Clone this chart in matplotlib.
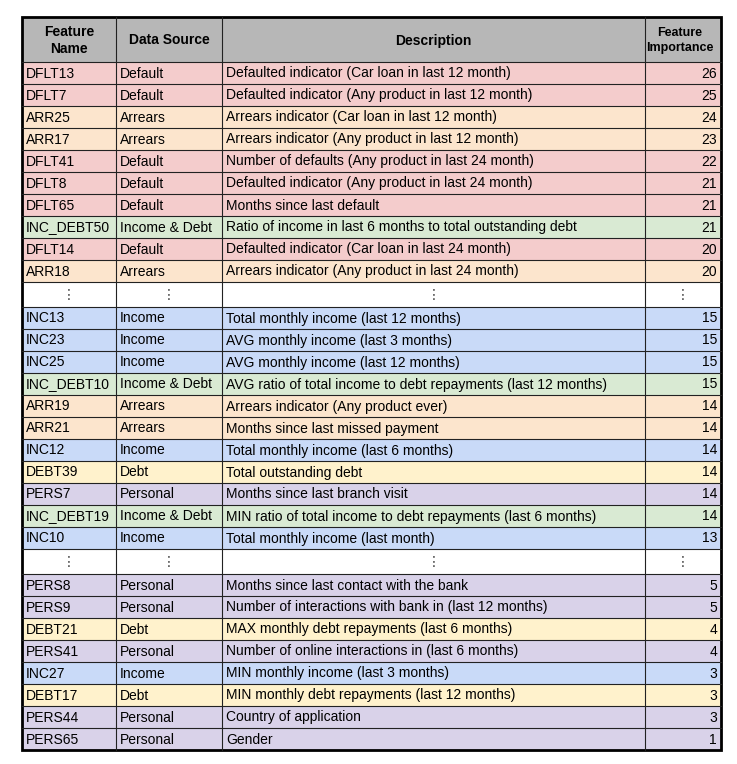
import matplotlib
matplotlib.use("Agg")
import matplotlib.pyplot as plt
from matplotlib.patches import Rectangle

plt.rcParams['font.family'] = ['Liberation Sans', 'DejaVu Sans']

# table content ("⋮" rows mark skipped features)
names = ["DFLT13", "DFLT7", "ARR25", "ARR17", "DFLT41", "DFLT8", "DFLT65",
         "INC_DEBT50", "DFLT14", "ARR18", "⋮",
         "INC13", "INC23", "INC25", "INC_DEBT10", "ARR19", "ARR21", "INC12",
         "DEBT39", "PERS7", "INC_DEBT19", "INC10", "⋮",
         "PERS8", "PERS9", "DEBT21", "PERS41", "INC27", "DEBT17", "PERS44", "PERS65"]
sources = ["Default", "Default", "Arrears", "Arrears", "Default", "Default", "Default",
           "Income & Debt", "Default", "Arrears", "⋮",
           "Income", "Income", "Income", "Income & Debt", "Arrears", "Arrears", "Income",
           "Debt", "Personal", "Income & Debt", "Income", "⋮",
           "Personal", "Personal", "Debt", "Personal", "Income", "Debt", "Personal", "Personal"]
descriptions = [
    "Defaulted indicator (Car loan in last 12 month)",
    "Defaulted indicator (Any product in last 12 month)",
    "Arrears indicator (Car loan in last 12 month)",
    "Arrears indicator (Any product in last 12 month)",
    "Number of defaults (Any product in last 24 month)",
    "Defaulted indicator (Any product in last 24 month)",
    "Months since last default",
    "Ratio of income in last 6 months to total outstanding debt",
    "Defaulted indicator (Car loan in last 24 month)",
    "Arrears indicator (Any product in last 24 month)",
    "⋮",
    "Total monthly income (last 12 months)",
    "AVG monthly income (last 3 months)",
    "AVG monthly income (last 12 months)",
    "AVG ratio of total income to debt repayments (last 12 months)",
    "Arrears indicator (Any product ever)",
    "Months since last missed payment",
    "Total monthly income (last 6 months)",
    "Total outstanding debt",
    "Months since last branch visit",
    "MIN ratio of total income to debt repayments (last 6 months)",
    "Total monthly income (last month)",
    "⋮",
    "Months since last contact with the bank",
    "Number of interactions with bank in (last 12 months)",
    "MAX monthly debt repayments (last 6 months)",
    "Number of online interactions in (last 6 months)",
    "MIN monthly income (last 3 months)",
    "MIN monthly debt repayments (last 12 months)",
    "Country of application",
    "Gender"]
importance = ["26", "25", "24", "23", "22", "21", "21", "21", "20", "20", "⋮",
              "15", "15", "15", "15", "14", "14", "14", "14", "14", "14", "13", "⋮",
              "5", "5", "4", "4", "3", "3", "3", "1"]
headers = ["Feature\nName", "Data Source", "Description", "Feature\nImportance"]
header_sizes = [10, 10, 10, 9]

source_colors = {"Default": "#f4cccc", "Arrears": "#fce5cd", "Income & Debt": "#d9ead3",
                 "Income": "#c9daf8", "Debt": "#fff2cc", "Personal": "#d9d2e9", "⋮": "white"}

fig = plt.figure(figsize=(7.37, 7.64), dpi=100)
ax = fig.add_axes([0, 0, 1, 1])
ax.set_xlim(0, 737)
ax.set_ylim(764, 0)
ax.axis("off")

col_x = [22, 116, 222, 645, 721]
top, header_h, row_h, dots_h = 17, 45, 22, 25

# header
ax.add_patch(Rectangle((col_x[0], top), col_x[-1] - col_x[0], header_h,
                       facecolor="#b7b7b7", edgecolor="none"))
for i, h in enumerate(headers):
    ax.text((col_x[i] + col_x[i + 1]) / 2 - (3 if i == 3 else 0), top + header_h / 2 + 1, h,
            ha="center", va="center", fontsize=header_sizes[i], fontweight="bold",
            linespacing=1.25 if header_sizes[i] == 10 else 1.35)

y = top + header_h
row_lines = [top, y]
for n, s, d, v in zip(names, sources, descriptions, importance):
    h = dots_h if n == "⋮" else row_h
    ax.add_patch(Rectangle((col_x[0], y), col_x[-1] - col_x[0], h,
                           facecolor=source_colors[s], edgecolor="none"))
    cy = y + h / 2 + 0.5
    if n == "⋮":
        for i in range(4):
            ax.text((col_x[i] + col_x[i + 1]) / 2, cy, "⋮", ha="center", va="center",
                    fontsize=10, color="#444444")
    else:
        ax.text(col_x[0] + 4, cy, n, ha="left", va="center", fontsize=10)
        ax.text(col_x[1] + 4, cy, s, ha="left", va="center", fontsize=10)
        ax.text(col_x[2] + 4, cy, d, ha="left", va="center", fontsize=10)
        ax.text(col_x[4] - 4, cy, v, ha="right", va="center", fontsize=10)
    y += h
    row_lines.append(y)

bottom = y
for ry in row_lines[1:-1]:
    ax.plot([col_x[0], col_x[-1]], [ry, ry], color="#222222", lw=0.8)
for cx in col_x[1:-1]:
    ax.plot([cx, cx], [top, bottom], color="#222222", lw=0.8)
ax.add_patch(Rectangle((col_x[0], top), col_x[-1] - col_x[0], bottom - top,
                       facecolor="none", edgecolor="black", lw=2))

fig.savefig("out.png", dpi=100)
